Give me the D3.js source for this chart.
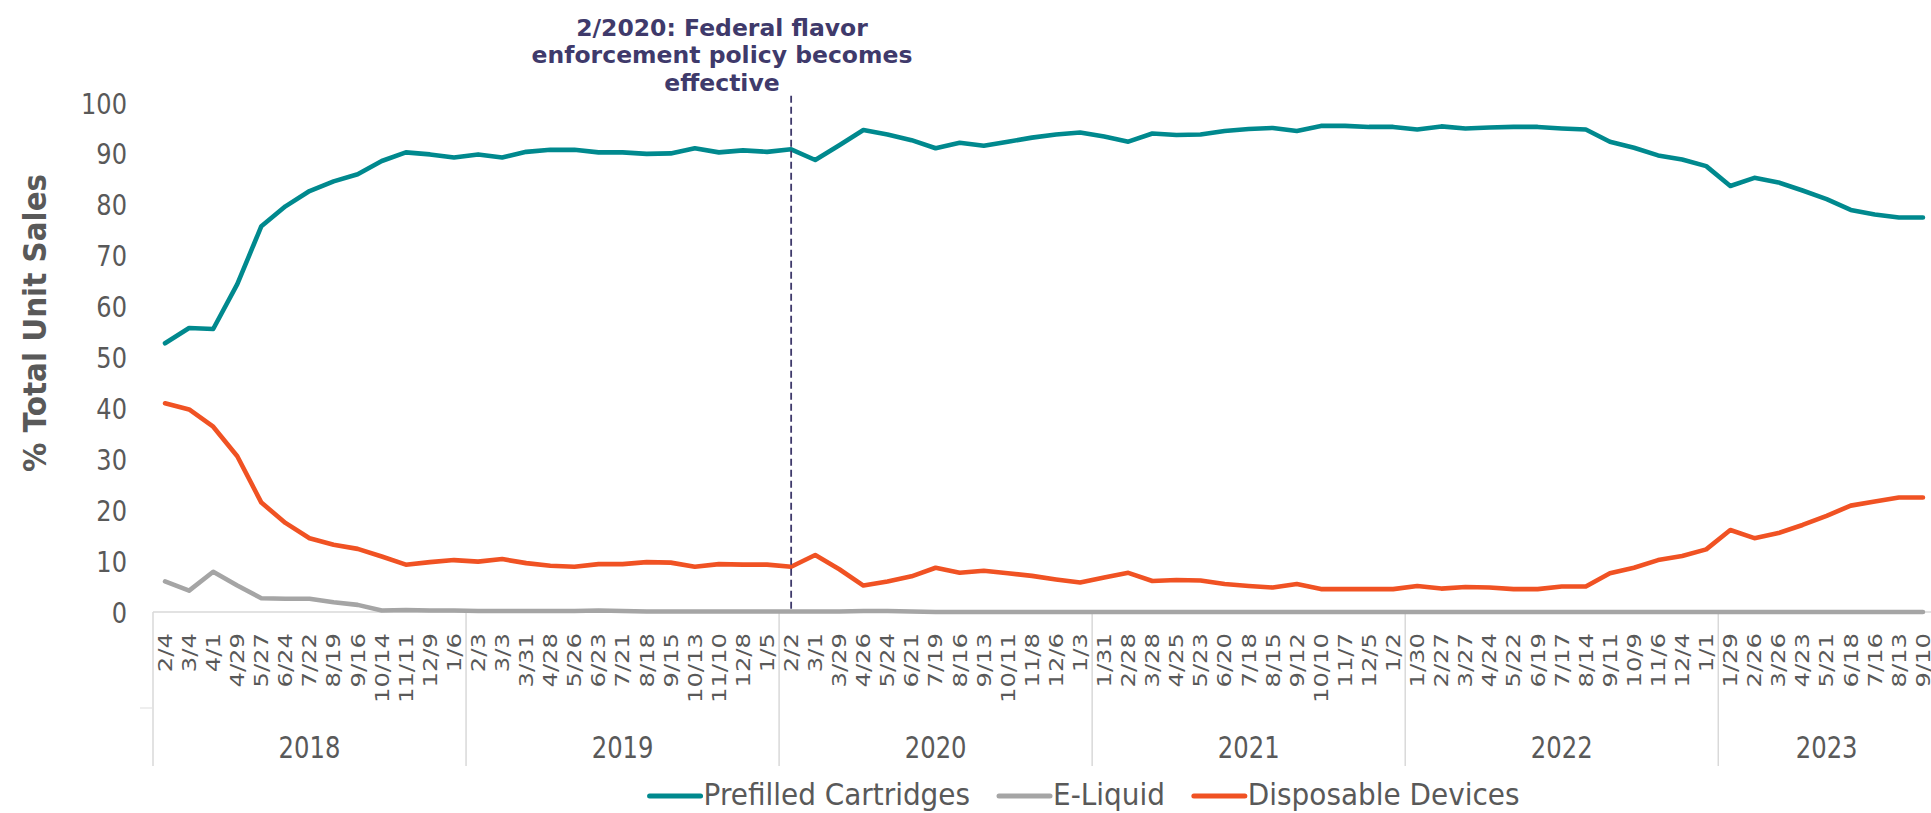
<!DOCTYPE html>
<html>
<head>
<meta charset="utf-8">
<script src="https://cdn.jsdelivr.net/npm/d3@7"></script>
<style>
  html, body { margin: 0; padding: 0; background: #ffffff; }
  svg { display: block; }
</style>
</head>
<body>
<svg id="chart" width="1931" height="813"></svg>
<script>
// ---------------- DATA ----------------
const categories = [
  "2/4","3/4","4/1","4/29","5/27","6/24","7/22","8/19","9/16","10/14","11/11","12/9","1/6",
  "2/3","3/3","3/31","4/28","5/26","6/23","7/21","8/18","9/15","10/13","11/10","12/8","1/5",
  "2/2","3/1","3/29","4/26","5/24","6/21","7/19","8/16","9/13","10/11","11/8","12/6","1/3",
  "1/31","2/28","3/28","4/25","5/23","6/20","7/18","8/15","9/12","10/10","11/7","12/5","1/2",
  "1/30","2/27","3/27","4/24","5/22","6/19","7/17","8/14","9/11","10/9","11/6","12/4","1/1",
  "1/29","2/26","3/26","4/23","5/21","6/18","7/16","8/13","9/10"
];
const yearLabels = ["2018","2019","2020","2021","2022","2023"];
const periodsPerYear = [13, 13, 13, 13, 13, 9];

const prefilledCartridges = [
  52.8, 55.8, 55.6, 64.4, 75.8, 79.7, 82.7, 84.6, 86.0, 88.6, 90.3, 89.9, 89.3,
  89.9, 89.3, 90.4, 90.8, 90.8, 90.3, 90.3, 90.0, 90.1, 91.1, 90.3, 90.7, 90.4,
  90.9, 88.8, 91.7, 94.7, 93.8, 92.7, 91.1, 92.2, 91.6, 92.4, 93.2, 93.8, 94.2,
  93.4, 92.4, 94.0, 93.7, 93.8, 94.5, 94.9, 95.1, 94.5, 95.5, 95.5, 95.3, 95.3,
  94.8, 95.4, 95.0, 95.2, 95.3, 95.3, 95.0, 94.8, 92.4, 91.2, 89.7, 88.9, 87.6,
  83.7, 85.3, 84.4, 82.8, 81.1, 79.0, 78.1, 77.5, 77.5
];
const eLiquid = [
  6.0, 4.2, 7.9, 5.2, 2.7, 2.6, 2.6, 1.9, 1.4, 0.3, 0.4, 0.3, 0.3,
  0.2, 0.2, 0.2, 0.2, 0.2, 0.3, 0.2, 0.1, 0.1, 0.1, 0.1, 0.1, 0.1,
  0.1, 0.1, 0.1, 0.2, 0.2, 0.1, 0, 0, 0, 0, 0, 0, 0,
  0, 0, 0, 0, 0, 0, 0, 0, 0, 0, 0, 0, 0,
  0, 0, 0, 0, 0, 0, 0, 0, 0, 0, 0, 0, 0,
  0, 0, 0, 0, 0, 0, 0, 0, 0
];
const disposableDevices = [
  41.0, 39.8, 36.4, 30.6, 21.5, 17.5, 14.5, 13.2, 12.4, 10.9, 9.3, 9.8, 10.2,
  9.9, 10.4, 9.6, 9.1, 8.9, 9.4, 9.4, 9.8, 9.7, 8.9, 9.4, 9.3, 9.3,
  8.9, 11.2, 8.4, 5.2, 6.0, 7.0, 8.7, 7.7, 8.1, 7.6, 7.1, 6.4, 5.8,
  6.8, 7.7, 6.1, 6.3, 6.2, 5.5, 5.1, 4.8, 5.5, 4.5, 4.5, 4.5, 4.5,
  5.1, 4.6, 4.9, 4.8, 4.5, 4.5, 5.0, 5.0, 7.6, 8.7, 10.2, 11.0, 12.3,
  16.1, 14.5, 15.5, 17.1, 18.9, 20.9, 21.7, 22.5, 22.5
];
const yTicks = [0, 10, 20, 30, 40, 50, 60, 70, 80, 90, 100];
const seriesNames = ["Prefilled Cartridges", "E-Liquid", "Disposable Devices"];
const seriesColors = ["#00898E", "#A5A5A5", "#F05223"];
const yTitle = "% Total Unit Sales";
const eventCategory = "2/2";
const eventLines = ["2/2020: Federal flavor", "enforcement policy becomes", "effective"];

// ---------------- LAYOUT ----------------
const svg = d3.select("#chart");
const plotLeft = 153, plotRight = 1935, plotTop = 103, plotBottom = 612;
const textColor = "#595959";

const x = d3.scaleBand()
  .domain(d3.range(categories.length))
  .range([plotLeft, plotRight])
  .paddingInner(0).paddingOuter(0);
const xc = i => x(i) + x.bandwidth() / 2;

const y = d3.scaleLinear().domain([0, 100]).range([plotBottom, plotTop]);

// ---------------- Y AXIS ----------------
const yAxis = d3.axisLeft(y).tickValues(yTicks).tickSize(0).tickPadding(0);
const yG = svg.append("g").attr("transform", "translate(127,0)").call(yAxis);
yG.select(".domain").remove();
yG.selectAll(".tick text")
  .attr("x", 0)
  .attr("fill", textColor)
  .style("font-family", "'DejaVu Sans', sans-serif")
  .style("font-size", "28px")
  .attr("text-anchor", "end")
  .attr("dy", "0.36em")
  .attr("transform", "scale(0.86,1)");

// y-axis title
svg.append("text")
  .attr("transform", "translate(34,323) rotate(-90) scale(0.92,1)")
  .attr("text-anchor", "middle")
  .attr("dy", "0.36em")
  .attr("fill", textColor)
  .style("font-family", "'DejaVu Sans', sans-serif")
  .style("font-weight", "bold")
  .style("font-size", "32px")
  .text(yTitle);

// ---------------- X AXIS ----------------
const axisG = svg.append("g");
axisG.append("line")
  .attr("x1", plotLeft).attr("x2", plotRight)
  .attr("y1", plotBottom).attr("y2", plotBottom)
  .attr("stroke", "#D9D9D9").attr("stroke-width", 1.5);

// category labels (rotated)
axisG.selectAll("text.cat")
  .data(categories)
  .join("text")
  .attr("class", "cat")
  .attr("transform", (d, i) => `translate(${xc(i)},633) rotate(-90) scale(1.28,1)`)
  .attr("text-anchor", "end")
  .attr("dy", "0.36em")
  .attr("fill", textColor)
  .style("font-family", "'DejaVu Sans', sans-serif")
  .style("font-size", "19px")
  .text(d => d);

// year groups
let startIdx = 0;
const groups = periodsPerYear.map((n, g) => {
  const o = { year: yearLabels[g], start: startIdx, end: startIdx + n };
  startIdx += n;
  return o;
});
const boundaryX = [plotLeft].concat(groups.map(g => x(g.end - 1) + x.bandwidth()));
axisG.selectAll("line.div")
  .data(boundaryX)
  .join("line")
  .attr("class", "div")
  .attr("x1", d => d).attr("x2", d => d)
  .attr("y1", plotBottom).attr("y2", 766)
  .attr("stroke", "#D9D9D9").attr("stroke-width", 1.5);
axisG.append("line")
  .attr("x1", 140).attr("x2", plotLeft)
  .attr("y1", 708).attr("y2", 708)
  .attr("stroke", "#E3E3E3").attr("stroke-width", 1.2);

axisG.selectAll("text.year")
  .data(groups)
  .join("text")
  .attr("class", "year")
  .attr("transform", g => `translate(${(x(g.start) + x(g.end - 1) + x.bandwidth()) / 2},758) scale(0.81,1)`)
  .attr("text-anchor", "middle")
  .attr("fill", textColor)
  .style("font-family", "'DejaVu Sans', sans-serif")
  .style("font-size", "30px")
  .text(g => g.year);

// ---------------- LINES ----------------
const seriesData = [prefilledCartridges, eLiquid, disposableDevices];
const line = d3.line().x((d, i) => xc(i)).y(d => y(d));
svg.append("g")
  .selectAll("path")
  .data(seriesData)
  .join("path")
  .attr("d", d => line(d))
  .attr("fill", "none")
  .attr("stroke", (d, i) => seriesColors[i])
  .attr("stroke-width", 4.6)
  .attr("stroke-linejoin", "round")
  .attr("stroke-linecap", "round");

// ---------------- ANNOTATION ----------------
const evX = xc(categories.indexOf(eventCategory));
svg.append("line")
  .attr("x1", evX).attr("x2", evX)
  .attr("y1", y(101.4)).attr("y2", plotBottom)
  .attr("stroke", "#3F3A6B")
  .attr("stroke-width", 1.8)
  .attr("stroke-dasharray", "7,4");

svg.append("g")
  .selectAll("text")
  .data(eventLines)
  .join("text")
  .attr("x", 722)
  .attr("y", (d, i) => 36 + i * 27.4)
  .attr("text-anchor", "middle")
  .attr("fill", "#3F3A6B")
  .style("font-family", "'DejaVu Sans', sans-serif")
  .style("font-weight", "bold")
  .style("font-size", "23.5px")
  .text(d => d);

// ---------------- LEGEND ----------------
const legendG = svg.append("g");
const items = legendG.selectAll("g.item")
  .data(seriesNames)
  .join("g")
  .attr("class", "item");
items.append("line")
  .attr("x1", 0).attr("x2", 51)
  .attr("y1", 0).attr("y2", 0)
  .attr("stroke", (d, i) => seriesColors[i])
  .attr("stroke-width", 5)
  .attr("stroke-linecap", "round");
const legendScale = 0.9;
items.append("text")
  .attr("transform", `translate(54,8.5) scale(${legendScale},1)`)
  .attr("fill", textColor)
  .style("font-family", "'DejaVu Sans', sans-serif")
  .style("font-size", "31px")
  .text(d => d);
let widths = [];
items.each(function () {
  const t = d3.select(this).select("text").node();
  widths.push(54 + t.getComputedTextLength() * legendScale);
});
const gap = 29;
const total = d3.sum(widths) + gap * (widths.length - 1);
let cx = 1084.5 - total / 2;
items.attr("transform", (d, i) => {
  const tx = cx;
  cx += widths[i] + gap;
  return `translate(${tx},796)`;
});
</script>
</body>
</html>
